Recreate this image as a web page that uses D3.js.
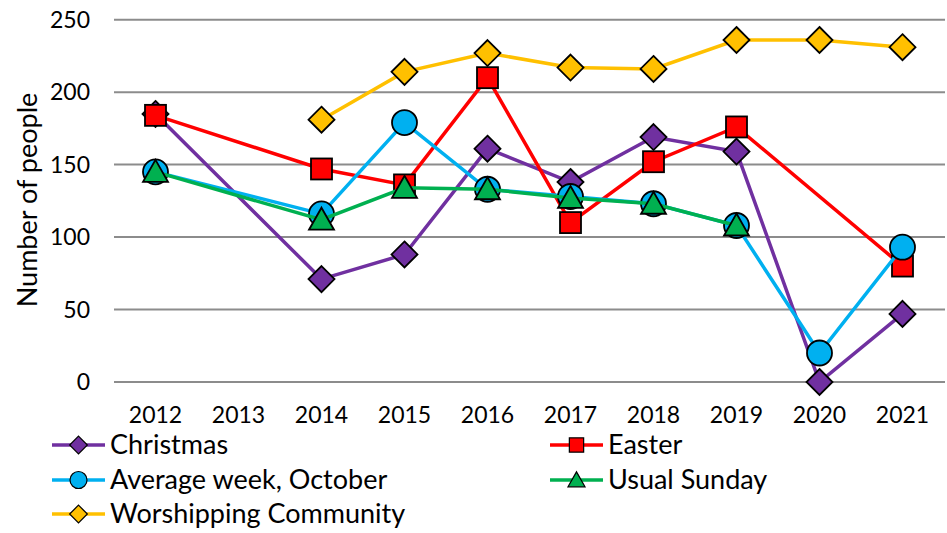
<!DOCTYPE html>
<html>
<head>
<meta charset="utf-8">
<script src="https://cdn.jsdelivr.net/npm/d3@7"></script>
<style>
  body { margin: 0; background: #fff; }
  svg { display: block; }
  text { font-family: "Lato", "Open Sans", sans-serif; fill: #000; }
</style>
</head>
<body>
<div id="chart"></div>
<script>
// categories and series (null = no value that year)
const years = ["2012", "2013", "2014", "2015", "2016", "2017", "2018", "2019", "2020", "2021"];
const christmas = [185, null, 71, 88, 161, 138, 169, 159, 0, 47];
const easter = [184, null, 147, 136, 210, 110, 152, 176, null, 80];
const averageWeek = [145, null, 116, 179, 133, 128, 123, 108, 20, 93];
const usualSunday = [145, null, 112, 134, 133, 127, 123, 108, null, null];
const worshipping = [null, null, 181, 214, 227, 217, 216, 236, 236, 231];
const yTicks = [0, 50, 100, 150, 200, 250];

const series = [
  { name: "Christmas", values: christmas, color: "#7030A0", symbol: "diamond" },
  { name: "Easter", values: easter, color: "#FF0000", symbol: "square" },
  { name: "Average week, October", values: averageWeek, color: "#00B0F0", symbol: "circle" },
  { name: "Usual Sunday", values: usualSunday, color: "#00B050", symbol: "triangle" },
  { name: "Worshipping Community", values: worshipping, color: "#FFC000", symbol: "diamond" }
];

const width = 947, height = 533;
const svg = d3.select("#chart").append("svg")
  .attr("width", width)
  .attr("height", height);

const x = d3.scaleBand().domain(years).range([114, 944]).padding(0);
const y = d3.scaleLinear().domain([0, 250]).range([382, 19.7]);
const cx = d => x(d) + x.bandwidth() / 2;

// gridlines
svg.append("g")
  .selectAll("line")
  .data(yTicks)
  .join("line")
  .attr("x1", 114)
  .attr("x2", 945)
  .attr("y1", d => y(d))
  .attr("y2", d => y(d))
  .attr("stroke", "#8c8c8c")
  .attr("stroke-width", 2);

// y tick labels
svg.append("g")
  .selectAll("text")
  .data(yTicks)
  .join("text")
  .attr("x", 90)
  .attr("y", d => y(d))
  .attr("dy", "0.35em")
  .attr("text-anchor", "end")
  .style("font-size", "23px")
  .text(d => d);

// x tick labels
svg.append("g")
  .selectAll("text")
  .data(years)
  .join("text")
  .attr("x", d => cx(d))
  .attr("y", 415)
  .attr("dy", "0.35em")
  .attr("text-anchor", "middle")
  .style("font-size", "23px")
  .text(d => d);

// y axis title
svg.append("text")
  .attr("transform", "translate(28,200) rotate(-90)")
  .attr("dy", "0.35em")
  .attr("text-anchor", "middle")
  .style("font-size", "27px")
  .text("Number of people");

// marker drawing helper
function marker(g, symbol, color) {
  if (symbol === "diamond") {
    g.append("path").attr("d", "M0,-13L13,0L0,13L-13,0Z");
  } else if (symbol === "square") {
    g.append("rect").attr("x", -10.5).attr("y", -10.5).attr("width", 21).attr("height", 21);
  } else if (symbol === "circle") {
    g.append("circle").attr("r", 12.5);
  } else {
    g.append("path").attr("d", "M0,-12L12.5,10L-12.5,10Z");
  }
  g.selectAll("*")
    .attr("fill", color)
    .attr("stroke", "#000")
    .attr("stroke-width", 1.8)
    .attr("stroke-linejoin", "miter");
}

const line = d3.line()
  .x(d => cx(d.year))
  .y(d => y(d.value));

const plot = svg.append("g");

series.forEach(s => {
  const pts = years
    .map((yr, i) => ({ year: yr, value: s.values[i] }))
    .filter(d => d.value !== null);

  const sg = plot.append("g");
  sg.append("path")
    .datum(pts)
    .attr("d", line)
    .attr("fill", "none")
    .attr("stroke", s.color)
    .attr("stroke-width", 3.5);

  pts.forEach(p => {
    const m = sg.append("g").attr("transform", `translate(${cx(p.year)},${y(p.value)})`);
    marker(m, s.symbol, s.color);
  });
});

// legend
const legendPos = [
  { x: 52, y: 445 },
  { x: 550, y: 445 },
  { x: 52, y: 480 },
  { x: 550, y: 480 },
  { x: 52, y: 514 }
];

series.forEach((s, i) => {
  const p = legendPos[i];
  const lg = svg.append("g").attr("transform", `translate(${p.x},${p.y})`);
  lg.append("line")
    .attr("x1", 0)
    .attr("x2", 53)
    .attr("stroke", s.color)
    .attr("stroke-width", 3.5);
  const m = lg.append("g").attr("transform", "translate(26.5,0) scale(0.68)");
  marker(m, s.symbol, s.color);
  lg.append("text")
    .attr("x", 58)
    .attr("dy", "0.35em")
    .style("font-size", "27px")
    .text(s.name);
});
</script>
</body>
</html>
